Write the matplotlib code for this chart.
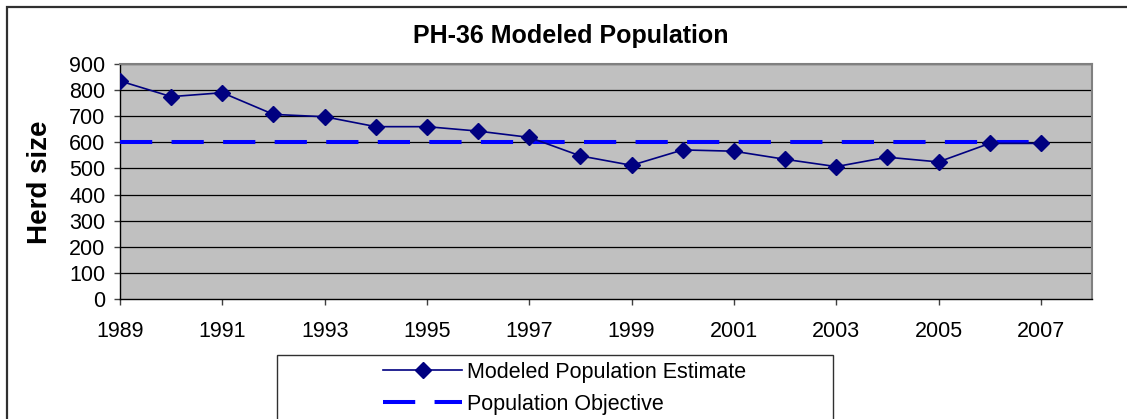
import numpy as np
import matplotlib
matplotlib.use('Agg')
import matplotlib.pyplot as plt
from matplotlib.patches import Rectangle
from matplotlib.lines import Line2D

plt.rcParams['font.family'] = ['Liberation Sans', 'DejaVu Sans']

# Data
years = list(range(1989, 2008))
estimate = [835, 775, 790, 707, 698, 660, 660, 643, 619, 548,
            512, 571, 566, 535, 507, 543, 525, 596, 596]
objective = [600] * len(years)
tick_years = years[::2]
y_ticks = list(range(0, 901, 100))

W, H = 1127, 419
fig = plt.figure(figsize=(W / 100, H / 100), dpi=100)

# Axes placed by pixel edges of the reference plot area
left, right, top, bottom = 120, 1092, 64, 299
ax = fig.add_axes([left / W, 1 - bottom / H, (right - left) / W, (bottom - top) / H])
ax.set_facecolor('#C0C0C0')

# Outer chart frame (only left and top edges are visible in the reference)
fig.patches.append(Rectangle((7 / W, -0.2), 1.2, 1.2 - 7 / H,
                             transform=fig.transFigure, fill=False,
                             edgecolor='#303030', linewidth=1.6, zorder=0))

ax.plot(years, objective, color='#0000FF', linewidth=2.9, dashes=(8, 4.8),
        label='Population Objective', zorder=3)
ax.plot(years, estimate, color='#000080', linewidth=1.2, marker='D', markersize=8.3,
        label='Modeled Population Estimate', zorder=4)

ax.set_xlim(1989, 2008)
ax.set_ylim(0, 900)
ax.set_xticks(tick_years)
ax.set_yticks(y_ticks)
ax.tick_params(axis='both', direction='out', length=4.5, width=1, color='#404040',
               labelsize=15.5)
ax.tick_params(axis='x', pad=11)
ax.tick_params(axis='y', pad=6)

for y in y_ticks[1:]:
    ax.axhline(y, color='black', linewidth=0.9, zorder=1)

for s in ['top', 'right']:
    ax.spines[s].set_color('#808080')
    ax.spines[s].set_linewidth(1.5)
for s in ['left', 'bottom']:
    ax.spines[s].set_color('black')
    ax.spines[s].set_linewidth(1.0)

fig.text(571 / W, 1 - 36 / H, 'PH-36 Modeled Population', ha='center', va='center',
         fontsize=18, fontweight='bold')
fig.text(40 / W, 1 - 182 / H, 'Herd size', ha='center', va='center', rotation=90,
         fontsize=20, fontweight='bold')

# Legend box
fig.patches.append(Rectangle((277 / W, -0.2), (833 - 277) / W, 0.2 + (H - 355) / H,
                             transform=fig.transFigure, fill=True, facecolor='white',
                             edgecolor='#303030', linewidth=1.0, zorder=1))
h_est = Line2D([], [], color='#000080', linewidth=1.2, marker='D', markersize=8.3)
h_obj = Line2D([], [], color='#0000FF', linewidth=2.9, dashes=(8, 4.8))
fig.legend([h_est, h_obj], ['Modeled Population Estimate', 'Population Objective'],
           loc='upper left', bbox_to_anchor=(383 / W, 1 - 362 / H), frameon=False,
           fontsize=15.5, handlelength=3.67, handletextpad=0.23, numpoints=1,
           borderpad=0, borderaxespad=0, labelspacing=0.5)

fig.savefig('out.png', dpi=100)
